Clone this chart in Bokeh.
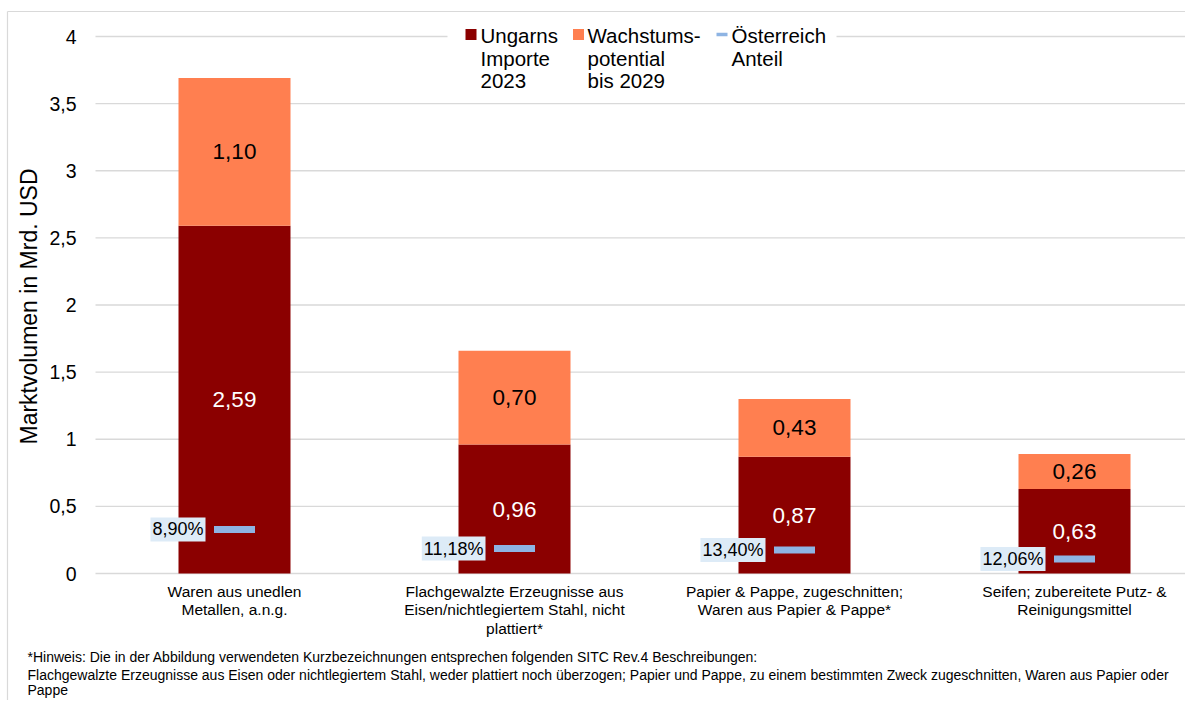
import math
from bokeh.plotting import figure
from bokeh.models import Range1d, ColumnDataSource
from bokeh.core.properties import value
from bokeh.embed import file_html
from bokeh.resources import INLINE

# ---------------- data ----------------
categories = [
    "Waren aus unedlen\nMetallen, a.n.g.",
    "Flachgewalzte Erzeugnisse aus\nEisen/nichtlegiertem Stahl, nicht\nplattiert*",
    "Papier & Pappe, zugeschnitten;\nWaren aus Papier & Pappe*",
    "Seifen; zubereitete Putz- &\nReinigungsmittel",
]
imports_2023 = [2.59, 0.96, 0.87, 0.63]
growth_2029 = [1.10, 0.70, 0.43, 0.26]
austria_share_pct = [8.90, 11.18, 13.40, 12.06]
y_ticks = [0, 0.5, 1, 1.5, 2, 2.5, 3, 3.5, 4]
y_tick_labels = ["0", "0,5", "1", "1,5", "2", "2,5", "3", "3,5", "4"]
legend_labels = [["Ungarns", "Importe", "2023"],
                 ["Wachstums-", "potential", "bis 2029"],
                 ["Österreich", "Anteil"]]
y_axis_title = "Marktvolumen in Mrd. USD"
footnote_lines = [
    "*Hinweis: Die in der Abbildung verwendeten Kurzbezeichnungen entsprechen folgenden SITC Rev.4 Beschreibungen:",
    "Flachgewalzte Erzeugnisse aus Eisen oder nichtlegiertem Stahl, weder plattiert noch überzogen; Papier und Pappe, zu einem bestimmten Zweck zugeschnitten, Waren aus Papier oder",
    "Pappe",
]

# ---------------- styles / layout ----------------
FONT = "Liberation Sans"
C_IMPORT = "#8B0000"
C_GROWTH = "#FF7F50"
C_AT = "#8EB4E3"
C_AT_BG = "#DDEBF7"
GRID = "#D9D9D9"
BORDER = "#D9D9D9"

W, H = 1185, 700
X0_PX, PX_X = 234.0, 280.0        # pixel x of first category, px per category
Y0_PX, PX_Y = 573.0, 134.25       # pixel y of value 0, px per unit
PLOT_LEFT_PX = 95

def dx(px):
    return (px - X0_PX) / PX_X

def dy(py):
    return (Y0_PX - py) / PX_Y

xs = list(range(len(categories)))
totals = [a + b for a, b in zip(imports_2023, growth_2029)]
at_vals = [s / 100.0 * t for s, t in zip(austria_share_pct, totals)]

def fmt(v):
    return f"{v:.2f}".replace(".", ",")

src = ColumnDataSource(dict(
    x=xs, imp=imports_2023, tot=totals,
    imp_mid=[v / 2 for v in imports_2023],
    gr_mid=[a + b / 2 for a, b in zip(imports_2023, growth_2029)],
    imp_lbl=[fmt(v) for v in imports_2023],
    gr_lbl=[fmt(v) for v in growth_2029],
    at=at_vals,
    at_lbl=[fmt(v) + "%" for v in austria_share_pct],
))

p = figure(width=W, height=H, output_backend="svg", toolbar_location=None,
           x_range=Range1d(dx(0), dx(W)), y_range=Range1d(dy(H), dy(0)),
           background_fill_color="white", border_fill_color="white",
           min_border=0)
p.outline_line_color = None
p.grid.visible = False
p.axis.visible = False

# outer chart border (left + top)
p.segment(x0=[dx(7), dx(7)], y0=[dy(11), dy(11)], x1=[dx(7), dx(W)],
          y1=[dy(H), dy(11)], line_color=BORDER, line_width=1.2)

# horizontal gridlines + y tick labels
p.segment(x0=[dx(PLOT_LEFT_PX)] * len(y_ticks), y0=y_ticks,
          x1=[dx(W)] * len(y_ticks), y1=y_ticks,
          line_color=GRID, line_width=1.3)
p.text(x=[dx(76)] * len(y_ticks), y=y_ticks, text=y_tick_labels,
       text_font=value(FONT), text_font_size="19.5px", text_color="black",
       text_align="right", text_baseline="middle")

# y axis title
p.text(x=[dx(28)], y=[dy(306)], text=[y_axis_title], angle=math.pi / 2,
       text_font=value(FONT), text_font_size="23px", text_color="black",
       text_align="center", text_baseline="middle")

# bars
p.vbar(x="x", bottom=0, top="imp", width=0.4, source=src,
       fill_color=C_IMPORT, line_color=None)
p.vbar(x="x", bottom="imp", top="tot", width=0.4, source=src,
       fill_color=C_GROWTH, line_color=None)

# bar value labels
p.text(x="x", y="imp_mid", text="imp_lbl", source=src, text_color="white",
       text_font=value(FONT), text_font_size="22.5px",
       text_align="center", text_baseline="middle")
p.text(x="x", y="gr_mid", text="gr_lbl", source=src, text_color="black",
       text_font=value(FONT), text_font_size="22.5px",
       text_align="center", text_baseline="middle")

# Austria share markers + labels
p.rect(x="x", y="at", width=41 / PX_X, height=7, height_units="screen",
       source=src, fill_color=C_AT, line_color=None)
p.text(x="x", y="at", text="at_lbl", source=src, x_offset=-29,
       text_color="black", text_font=value(FONT), text_font_size="18px",
       text_align="right", text_baseline="middle",
       background_fill_color=C_AT_BG, padding=2)

# category labels
cx, cy, ct = [], [], []
for i, cat in zip(xs, categories):
    for j, line in enumerate(cat.split("\n")):
        cx.append(i); cy.append(dy(591 + 18.3 * j)); ct.append(line)
p.text(x=cx, y=cy, text=ct, text_font=value(FONT), text_font_size="15.5px",
       text_color="black", text_align="center", text_baseline="middle")

# legend (manual)
p.quad(left=dx(447), right=dx(836), top=dy(24), bottom=dy(48),
       fill_color="white", line_color=None)
p.rect(x=[dx(470.5), dx(578)], y=[dy(34), dy(34)], width=11, height=11,
       width_units="screen", height_units="screen",
       fill_color=[C_IMPORT, C_GROWTH], line_color=None)
p.rect(x=[dx(721.5)], y=[dy(34)], width=11, height=3.5,
       width_units="screen", height_units="screen",
       fill_color=C_AT, line_color=None)
leg_x = [480, 587, 731]
line_y = [35, 57.5, 80]
lx, ly, lt = [], [], []
for x_px, lines in zip(leg_x, legend_labels):
    for j, t in enumerate(lines):
        lx.append(dx(x_px)); ly.append(dy(line_y[j])); lt.append(t)
p.text(x=lx, y=ly, text=lt, text_color="black", text_font=value(FONT),
       text_font_size="20.5px", text_align="left", text_baseline="middle")

# footnote
p.text(x=[dx(27)] * 3, y=[dy(656), dy(674), dy(689)], text=footnote_lines,
       text_font=value(FONT), text_font_size="14px", text_color="black",
       text_align="left", text_baseline="middle")

open("out.html", "w").write(file_html(p, INLINE))
